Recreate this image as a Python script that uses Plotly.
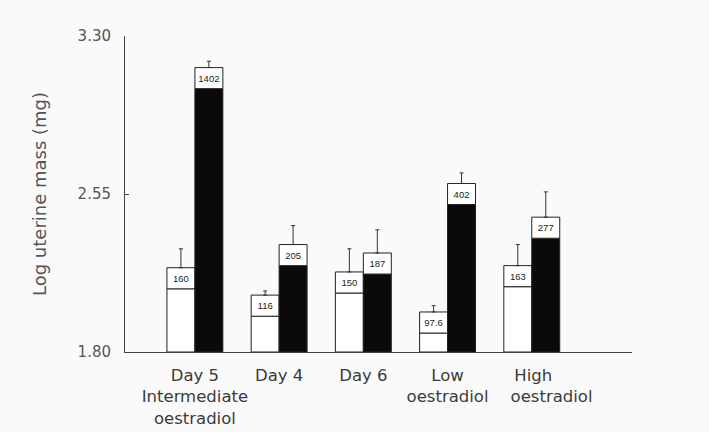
import plotly.graph_objects as go

# ---- data ----
categories = ["Day 5<br>Intermediate<br>oestradiol", "Day 4", "Day 6", "Low<br>oestradiol",
              "High&nbsp;&nbsp;&nbsp;&nbsp;&nbsp;&nbsp;&nbsp;<br>oestradiol"]
white_labels = ["160", "116", "150", "97.6", "163"]      # mean uterine mass (mg), white bars
black_labels = ["1402", "205", "187", "402", "277"]      # mean uterine mass (mg), black bars
white_log = [2.20, 2.07, 2.18, 1.99, 2.21]               # log uterine mass, white bars
black_log = [3.15, 2.31, 2.27, 2.60, 2.44]               # log uterine mass, black bars
white_err = [0.09, 0.02, 0.11, 0.03, 0.10]
black_err = [0.03, 0.09, 0.11, 0.05, 0.12]
y_ticks = [1.80, 2.55, 3.30]
y_ticktext = ["1.80", "2.55", "3.30"]

# ---- styling ----
Y0 = 1.80
BOX_H = 0.10
BAR_W = 0.332
TXT = "#3a3a3a"
FONT = "DejaVu Sans"
LABEL_SHIFT = [0, 0, 0, 0, 0.235]   # the last category label sits a bit to the right in the original

pos = list(range(len(categories)))
label_pos = [p + s for p, s in zip(pos, LABEL_SHIFT)]
xw = [p - BAR_W / 2 for p in pos]
xb = [p + BAR_W / 2 for p in pos]

fig = go.Figure()

def add_group(xs, vals, labels, errs, fill):
    lower = [v - BOX_H - Y0 for v in vals]
    fig.add_trace(go.Bar(
        x=xs, y=lower, base=[Y0] * len(vals), width=BAR_W,
        marker=dict(color=fill, line=dict(color="#222", width=1)),
        hoverinfo="skip", showlegend=False))
    fig.add_trace(go.Bar(
        x=xs, y=[BOX_H] * len(vals), base=[v - BOX_H for v in vals], width=BAR_W,
        marker=dict(color="white", line=dict(color="#222", width=1)),
        text=labels, textposition="inside", insidetextanchor="middle",
        textangle=0, constraintext="none",
        textfont=dict(family="Liberation Sans", size=9.5, color="#222"),
        hoverinfo="skip", showlegend=False))
    fig.add_trace(go.Scatter(
        x=xs, y=vals, mode="markers", marker=dict(size=1, color="rgba(0,0,0,0)"),
        error_y=dict(type="data", symmetric=False, array=errs, arrayminus=[0] * len(vals),
                     color="#333", thickness=1, width=2),
        hoverinfo="skip", showlegend=False))

add_group(xw, white_log, white_labels, white_err, "white")
add_group(xb, black_log, black_labels, black_err, "#0a0a0a")

fig.update_layout(
    width=709, height=432,
    margin=dict(l=125, r=77, t=36, b=80),
    paper_bgcolor="#fafafa", plot_bgcolor="#fafafa",
    barmode="overlay",
    font=dict(family=FONT, color=TXT),
    xaxis=dict(range=[-0.83, 5.19], tickvals=label_pos, ticktext=categories,
               tickangle=0, automargin=False, ticklabelstandoff=8,
               showline=True, linecolor="#444", linewidth=1, ticks="",
               showgrid=False, zeroline=False,
               tickfont=dict(family=FONT, size=16.5, color=TXT)),
    yaxis=dict(range=[1.80, 3.30], tickvals=y_ticks, ticktext=y_ticktext,
               automargin=False,
               showline=True, linecolor="#444", linewidth=1,
               ticks="inside", ticklen=4, tickcolor="#444",
               showgrid=False, zeroline=False,
               tickfont=dict(family=FONT, size=15, color="#555"),
               ticklabelstandoff=10,
               title=dict(text="Log uterine mass (mg)", standoff=26,
                          font=dict(family=FONT, size=18, color="#555"))),
)

fig.write_html("out.html")
